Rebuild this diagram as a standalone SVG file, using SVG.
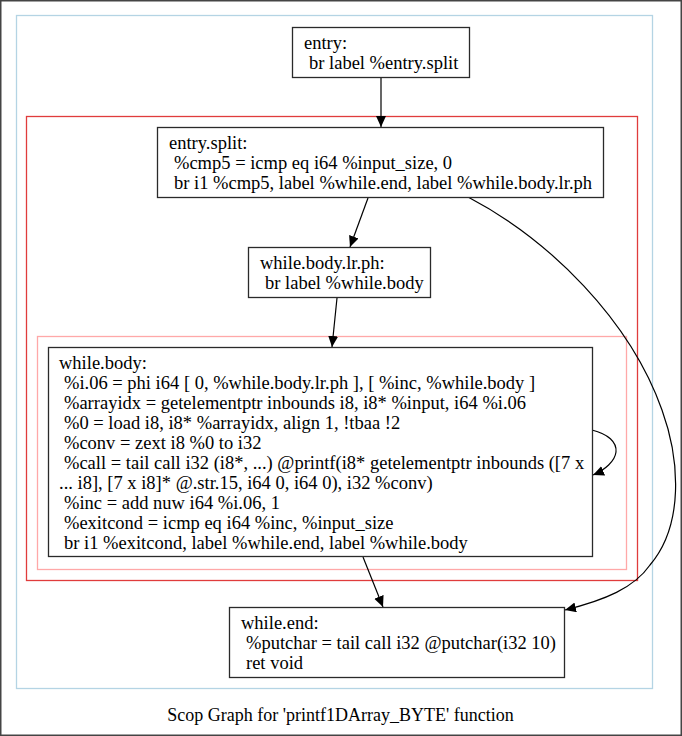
<svg xmlns="http://www.w3.org/2000/svg" width="682" height="736" viewBox="0 0 682 736">
  <style>
    .frame { fill: #ffffff; stroke: #444444; stroke-width: 1.5; }
    .cl-outer { fill: none; stroke: #b4d4e4; stroke-width: 1.3; }
    .cl-loop { fill: none; stroke: #e03c3c; stroke-width: 1.3; }
    .cl-inner { fill: none; stroke: #ffa8a8; stroke-width: 1.3; }
    .node rect { fill: #ffffff; stroke: #2a2a2a; stroke-width: 1.3; }
    .node text { font-family: "Liberation Serif", "Times New Roman", serif; font-size: 18.5px; fill: #000000; white-space: pre; }
    .title { font-family: "Liberation Serif", "Times New Roman", serif; font-size: 18px; fill: #000000; }
    .edge { fill: none; stroke: #000000; stroke-width: 1.2; marker-end: url(#arrow); }
  </style>
  <defs>
    <marker id="arrow" markerUnits="userSpaceOnUse" markerWidth="12" markerHeight="12" refX="11" refY="5" orient="auto">
      <path d="M0,0 L11,5 L0,10 Z" fill="#000000"/>
    </marker>
  </defs>

  <!-- page frame -->
  <rect class="frame" x="0.75" y="0.75" width="680.5" height="734.5"/>

  <!-- clusters -->
  <g id="clusters">
    <rect class="cl-outer" x="16.5" y="15.5" width="636" height="673"/>
    <rect class="cl-loop" x="26.5" y="116.5" width="611" height="464"/>
    <rect class="cl-inner" x="37.5" y="336.5" width="589" height="233"/>
  </g>

  <!-- connectors -->
  <g id="edges">
    <path class="edge" d="M381,78 L381,127"/>
    <path class="edge" d="M368,198 L350,247"/>
    <path class="edge" d="M337,298 L332,347"/>
    <path class="edge" d="M363,557 L383,607"/>
    <path class="edge" d="M592,430 C608,434 617,442 616,452 C615,461 605,470 593,475"/>
    <path class="edge" d="M468,197 C550,240 630,320 662,410 C680,460 684,525 650,565 C634,588 605,600 565,610"/>
  </g>

  <!-- instruction lines after the block name are indented by one space -->
  <g id="node-entry" class="node">
    <rect x="292.5" y="27.5" width="177" height="50"/>
    <text x="304" y="48.5">entry:</text>
    <text x="309" y="68.5">br label %entry.split</text>
  </g>

  <g id="node-entry-split" class="node">
    <rect x="157.5" y="127.5" width="446" height="70"/>
    <text x="169" y="148.5">entry.split:</text>
    <text x="174" y="168.5">%cmp5 = icmp eq i64 %input_size, 0</text>
    <text x="174" y="188.5">br i1 %cmp5, label %while.end, label %while.body.lr.ph</text>
  </g>

  <g id="node-while-body-lr-ph" class="node">
    <rect x="248.5" y="247.5" width="182" height="50"/>
    <text x="260" y="268.5">while.body.lr.ph:</text>
    <text x="265" y="288.5">br label %while.body</text>
  </g>

  <g id="node-while-body" class="node">
    <rect x="48.5" y="347.5" width="544" height="209"/>
    <text x="59" y="368.5">while.body:</text>
    <text x="64" y="388.5">%i.06 = phi i64 [ 0, %while.body.lr.ph ], [ %inc, %while.body ]</text>
    <text x="64" y="408.5">%arrayidx = getelementptr inbounds i8, i8* %input, i64 %i.06</text>
    <text x="64" y="428.5">%0 = load i8, i8* %arrayidx, align 1, !tbaa !2</text>
    <text x="64" y="448.5">%conv = zext i8 %0 to i32</text>
    <text x="64" y="468.5">%call = tail call i32 (i8*, ...) @printf(i8* getelementptr inbounds ([7 x</text>
    <text x="59" y="488.5">... i8], [7 x i8]* @.str.15, i64 0, i64 0), i32 %conv)</text>
    <text x="64" y="508.5">%inc = add nuw i64 %i.06, 1</text>
    <text x="64" y="528.5">%exitcond = icmp eq i64 %inc, %input_size</text>
    <text x="64" y="548.5">br i1 %exitcond, label %while.end, label %while.body</text>
  </g>

  <g id="node-while-end" class="node">
    <rect x="229.5" y="607.5" width="335" height="70"/>
    <text x="241" y="628.5">while.end:</text>
    <text x="246" y="648.5">%putchar = tail call i32 @putchar(i32 10)</text>
    <text x="246" y="668.5">ret void</text>
  </g>

  <text class="title" x="340.5" y="721" text-anchor="middle">Scop Graph for 'printf1DArray_BYTE' function</text>
</svg>
